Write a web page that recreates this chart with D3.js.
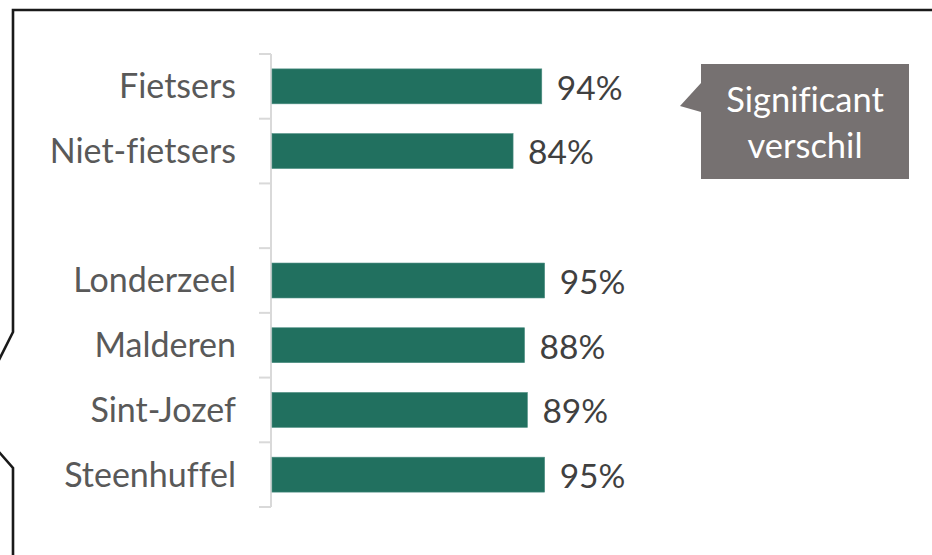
<!DOCTYPE html>
<html>
<head>
<meta charset="utf-8">
<script src="https://cdn.jsdelivr.net/npm/d3@7"></script>
<style>
  body { margin: 0; background: #fff; }
  svg text { font-family: Lato, "Open Sans", sans-serif; font-variant-ligatures: none; }
</style>
</head>
<body>
<div class="svg-container"></div>
<script>
// categories, empty slot is the gap between the two groups
const categories = ["Fietsers", "Niet-fietsers", "", "Londerzeel", "Malderen", "Sint-Jozef", "Steenhuffel"];
const values = [0.94, 0.84, null, 0.95, 0.88, 0.89, 0.95];
const noteLines = ["Significant", "verschil"];

const width = 932, height = 555;
const barColor = "#21705F";

var svg = d3.select(".svg-container").append("svg")
  .attr("width", width)
  .attr("height", height);

// outer frame (callout shape, pointing out of the picture on the left)
svg.append("path")
  .attr("fill", "none")
  .attr("stroke", "#1a1a1a")
  .attr("stroke-width", 2.6)
  .attr("stroke-linejoin", "miter")
  .attr("d", "M934,10 L13,10 L13,332 L-1,360 M-1,452 L13,468 L13,560");

var y = d3.scaleBand()
  .domain(d3.range(categories.length))
  .range([54, 507])
  .paddingInner(0.46)
  .paddingOuter(0.23);

var x = d3.scaleLinear()
  .domain([0, 1])
  .range([272, 559]);

// axis: light gray line with ticks between categories
var axisX = 271;
var edges = d3.range(categories.length + 1).map(function(i) {
  return 54 + i * (507 - 54) / categories.length;
});

svg.append("line")
  .attr("x1", axisX).attr("x2", axisX)
  .attr("y1", edges[0]).attr("y2", edges[edges.length - 1])
  .attr("stroke", "#d9d9d9")
  .attr("stroke-width", 2);

svg.selectAll("line.tick")
  .data(edges)
  .enter()
  .append("line")
  .attr("class", "tick")
  .attr("x1", axisX - 12).attr("x2", axisX)
  .attr("y1", function(d) { return d; })
  .attr("y2", function(d) { return d; })
  .attr("stroke", "#d9d9d9")
  .attr("stroke-width", 2);

var rows = categories.map(function(c, i) { return {label: c, value: values[i], i: i}; });

// bars
svg.selectAll("rect.bar")
  .data(rows.filter(function(d) { return d.value != null; }))
  .enter()
  .append("rect")
  .attr("class", "bar")
  .attr("x", x(0))
  .attr("y", function(d) { return y(d.i); })
  .attr("width", function(d) { return x(d.value) - x(0); })
  .attr("height", y.bandwidth())
  .attr("fill", barColor)
  .attr("stroke", "#4f8f84")
  .attr("stroke-width", 0.6);

// category labels
svg.selectAll("text.cat")
  .data(rows.filter(function(d) { return d.label; }))
  .enter()
  .append("text")
  .attr("class", "cat")
  .attr("x", 236)
  .attr("y", function(d) { return y(d.i) + y.bandwidth() / 2; })
  .attr("dy", "0.35em")
  .attr("text-anchor", "end")
  .attr("fill", "#595959")
  .style("font-size", "34px")
  .text(function(d) { return d.label; });

// value labels
svg.selectAll("text.val")
  .data(rows.filter(function(d) { return d.value != null; }))
  .enter()
  .append("text")
  .attr("class", "val")
  .attr("x", function(d) { return x(d.value) + 15; })
  .attr("y", function(d) { return y(d.i) + y.bandwidth() / 2; })
  .attr("dy", "0.4em")
  .attr("fill", "#404040")
  .style("font-size", "33.5px")
  .text(function(d) { return Math.round(d.value * 100) + "%"; });

// "Significant verschil" callout
var note = svg.append("g");
note.append("path")
  .attr("fill", "#767171")
  .attr("d", "M701,64 L909,64 L909,179 L701,179 L701,112 L680,106 L701,83 Z");

note.selectAll("text")
  .data(noteLines)
  .enter()
  .append("text")
  .attr("x", 805)
  .attr("y", function(d, i) { return 112 + i * 46; })
  .attr("text-anchor", "middle")
  .attr("fill", "#ffffff")
  .style("font-size", "34.5px")
  .text(function(d) { return d; });
</script>
</body>
</html>
